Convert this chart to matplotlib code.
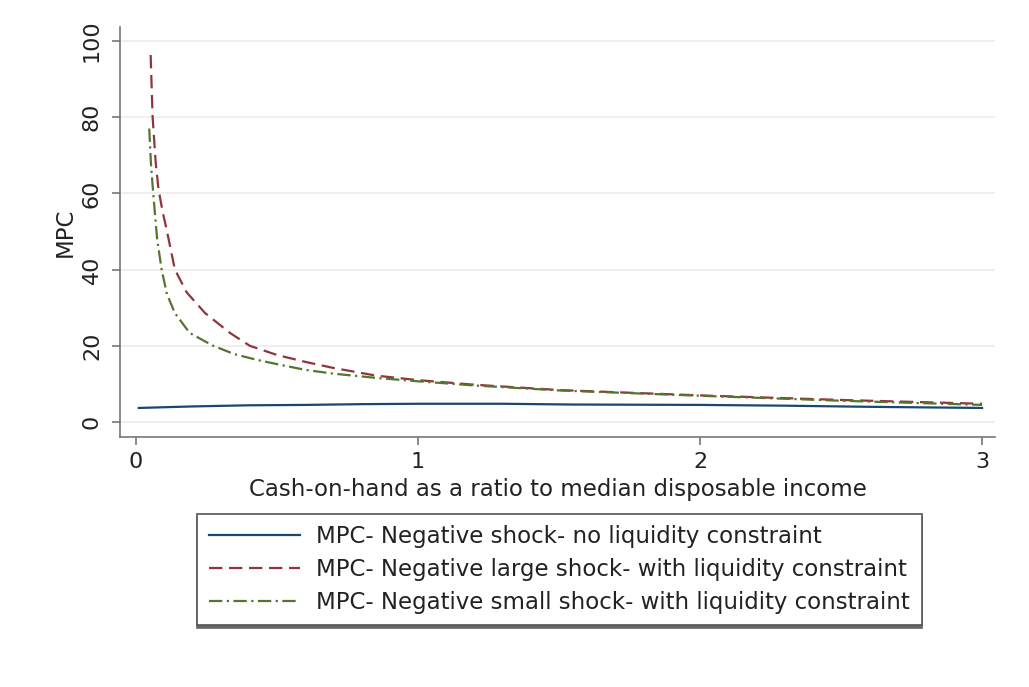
import matplotlib.pyplot as plt

plt.rcParams['font.family'] = ['DejaVu Sans']

# cash-on-hand / median disposable income and MPC (%) for each scenario
x_noliq = [0.01, 0.2, 0.4, 0.6, 0.8, 1.0, 1.3, 1.55, 2.0, 2.3, 2.6, 3.0]
mpc_noliq = [3.7, 4.1, 4.4, 4.5, 4.7, 4.8, 4.8, 4.6, 4.5, 4.3, 4.0, 3.7]

x_large = [0.052, 0.059, 0.07, 0.08, 0.095, 0.109, 0.138, 0.18, 0.245, 0.333,
           0.404, 0.5, 0.6, 0.7, 0.85, 1.0, 1.2, 1.5, 2.0, 2.5, 3.0]
mpc_large = [96.3, 80, 68, 61, 55, 50.4, 40, 34, 28.6, 23.4,
             20, 17.6, 15.8, 14.2, 12.2, 11.0, 9.8, 8.4, 7.0, 5.8, 4.8]

x_small = [0.047, 0.053, 0.06, 0.075, 0.091, 0.11, 0.138, 0.19, 0.274, 0.35,
           0.43, 0.5, 0.6, 0.7, 0.85, 1.0, 1.2, 1.5, 2.0, 2.5, 3.0]
mpc_small = [77, 68, 61, 48, 40, 33.5, 28.6, 23.4, 20, 17.8,
             16.3, 15.2, 13.7, 12.7, 11.6, 10.7, 9.6, 8.3, 6.9, 5.6, 4.5]

labels = ["MPC- Negative shock- no liquidity constraint",
          "MPC- Negative large shock- with liquidity constraint",
          "MPC- Negative small shock- with liquidity constraint"]

fig = plt.figure(figsize=(10.29, 6.87), dpi=100)
ax = fig.add_axes([0.1166, 0.364, 0.967 - 0.1166, 0.961 - 0.364])

ax.plot(x_noliq, mpc_noliq, color="#1a476f", lw=1.6, label=labels[0])
ax.plot(x_large, mpc_large, color="#90353b", lw=1.6,
        linestyle=(0, (6, 3)), label=labels[1])
ax.plot(x_small, mpc_small, color="#55752f", lw=1.6,
        linestyle=(0, (6, 2, 1, 2)), label=labels[2])

ax.set_xlim(-0.0567, 3.046)
ax.set_ylim(-3.9, 103.7)
ax.set_xticks([0, 1, 2, 3])
ax.set_yticks([0, 20, 40, 60, 80, 100])
ax.grid(axis="y", color="#ececec", lw=1.2)
ax.set_axisbelow(True)

for side in ["top", "right"]:
    ax.spines[side].set_visible(False)
for side in ["left", "bottom"]:
    ax.spines[side].set_color("#777777")
    ax.spines[side].set_linewidth(1.2)

ax.tick_params(axis="both", length=6, width=1.2, color="#777777",
               labelsize=16, labelcolor="#222222")
ax.tick_params(axis="x", pad=5)
ax.tick_params(axis="y", pad=7)
for t in ax.get_yticklabels():
    t.set_rotation(90)
    t.set_va("center")

ax.set_xlabel("Cash-on-hand as a ratio to median disposable income",
              fontsize=16.5, color="#222222", labelpad=4)
ax.set_ylabel("MPC", fontsize=16.5, color="#222222", labelpad=4)

leg = ax.legend(loc="upper center", bbox_to_anchor=(559.5 / 1029, 1 - 514 / 687),
                bbox_transform=fig.transFigure, ncol=1, fontsize=16.5,
                frameon=True, fancybox=False, handlelength=4.0,
                handletextpad=0.7, labelspacing=0.42, borderpad=0.5,
                borderaxespad=0,
                shadow={"ox": 0, "oy": -2, "color": "#666666", "alpha": 1})
leg.get_frame().set_edgecolor("#555555")
leg.get_frame().set_linewidth(1.2)
for t in leg.get_texts():
    t.set_color("#222222")

fig.savefig("out.png", dpi=100)
